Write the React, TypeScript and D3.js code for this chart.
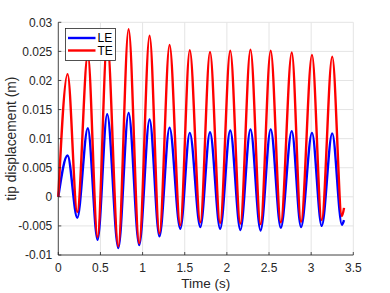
import React, { useRef, useEffect } from 'react';
import * as d3 from 'd3';

// extrema (time in s, displacement in m)
const peakTimes = [0.11, 0.35, 0.58, 0.834, 1.083, 1.32, 1.56, 1.8, 2.04, 2.28, 2.52, 2.77, 3.01, 3.25];
const troughTimes = [0.225, 0.466, 0.712, 0.96, 1.2, 1.447, 1.685, 1.92, 2.16, 2.4, 2.64, 2.88, 3.125, 3.365];
const lePeaks = [0.0071, 0.0118, 0.0142, 0.0144, 0.0133, 0.0119, 0.011, 0.0111, 0.0114, 0.0116, 0.0116, 0.0113, 0.011, 0.0109];
const leTroughs = [-0.0036, -0.0074, -0.0088, -0.0083, -0.0068, -0.0055, -0.0052, -0.0055, -0.0057, -0.0058, -0.0053, -0.0052, -0.005, -0.0048];
const tePeaks = [0.0211, 0.0245, 0.0268, 0.0288, 0.0277, 0.0261, 0.0252, 0.0249, 0.0251, 0.0253, 0.0251, 0.0248, 0.0244, 0.0241];
const teTroughs = [-0.0026, -0.0069, -0.0085, -0.008, -0.0063, -0.0049, -0.0044, -0.0045, -0.0046, -0.0047, -0.0044, -0.0043, -0.004, -0.0033];
const endTime = 3.39;
const leEnd = -0.004;
const teEnd = -0.0019;

const xTicks = [0, 0.5, 1, 1.5, 2, 2.5, 3, 3.5];
const xTickLabels = ['0', '0.5', '1', '1.5', '2', '2.5', '3', '3.5'];
const yTicks = [-0.01, -0.005, 0, 0.005, 0.01, 0.015, 0.02, 0.025, 0.03];
const yTickLabels = ['-0.01', '-0.005', '0', '0.005', '0.01', '0.015', '0.02', '0.025', '0.03'];

const seriesNames = ['LE', 'TE'];
const seriesColors = ['#0000ff', '#ff0000'];

const buildSeries = (peaks: number[], troughs: number[], end: number) => {
  const pts: [number, number][] = [[0, 0]];
  for (let i = 0; i < peaks.length; i++) {
    pts.push([peakTimes[i], peaks[i]]);
    pts.push([troughTimes[i], troughs[i]]);
  }
  pts.push([endTime, end]);
  return pts;
};

const App = () => {
  const container = useRef<HTMLDivElement>(null);

  useEffect(() => {
    const width = 390;
    const height = 293;
    const font = '"Liberation Sans", Arial, sans-serif';

    const x = d3.scaleLinear().domain([0, 3.5]).range([58.3, 353.3]);
    const y = d3.scaleLinear().domain([-0.01, 0.03]).range([255, 22.3]);

    const svg = d3.create('svg')
      .attr('width', width)
      .attr('height', height)
      .style('position', 'absolute')
      .style('left', 0)
      .style('top', 0)
      .style('background', '#fff');

    // grid
    const grid = svg.append('g').attr('stroke', '#e4e4e4').attr('stroke-width', 1);
    grid.selectAll('line.gx')
      .data(xTicks)
      .join('line')
      .attr('x1', d => x(d)).attr('x2', d => x(d))
      .attr('y1', y(-0.01)).attr('y2', y(0.03));
    grid.selectAll('line.gy')
      .data(yTicks)
      .join('line')
      .attr('x1', x(0)).attr('x2', x(3.5))
      .attr('y1', d => y(d)).attr('y2', d => y(d));

    // series
    const line = d3.line<[number, number]>()
      .x(d => x(d[0]))
      .y(d => y(d[1]))
      .curve(d3.curveMonotoneX);

    const data = [
      buildSeries(lePeaks, leTroughs, leEnd),
      buildSeries(tePeaks, teTroughs, teEnd),
    ];
    svg.append('g')
      .selectAll('path')
      .data(data)
      .join('path')
      .attr('fill', 'none')
      .attr('stroke', (d, i) => seriesColors[i])
      .attr('stroke-width', 2.4)
      .attr('stroke-linejoin', 'round')
      .attr('d', line);

    // axes (left and bottom only, ticks inward)
    const axisColor = '#262626';
    const axes = svg.append('g').attr('stroke', axisColor).attr('stroke-width', 0.8);
    axes.append('line')
      .attr('x1', x(0)).attr('x2', x(0)).attr('y1', y(-0.01)).attr('y2', y(0.03));
    axes.append('line')
      .attr('x1', x(0)).attr('x2', x(3.5)).attr('y1', y(-0.01)).attr('y2', y(-0.01));
    axes.selectAll('line.tx')
      .data(xTicks)
      .join('line')
      .attr('x1', d => x(d)).attr('x2', d => x(d))
      .attr('y1', y(-0.01)).attr('y2', y(-0.01) - 3);
    axes.selectAll('line.ty')
      .data(yTicks)
      .join('line')
      .attr('x1', x(0)).attr('x2', x(0) + 3)
      .attr('y1', d => y(d)).attr('y2', d => y(d));

    svg.append('g')
      .selectAll('text')
      .data(xTicks)
      .join('text')
      .attr('x', d => x(d))
      .attr('y', y(-0.01) + 16.5)
      .attr('text-anchor', 'middle')
      .attr('font-family', font)
      .attr('font-size', 12)
      .attr('fill', axisColor)
      .text((d, i) => xTickLabels[i]);

    svg.append('g')
      .selectAll('text')
      .data(yTicks)
      .join('text')
      .attr('x', x(0) - 6)
      .attr('y', d => y(d) + 4.2)
      .attr('text-anchor', 'end')
      .attr('font-family', font)
      .attr('font-size', 12)
      .attr('fill', axisColor)
      .text((d, i) => yTickLabels[i]);

    svg.append('text')
      .attr('x', (x(0) + x(3.5)) / 2)
      .attr('y', 288)
      .attr('text-anchor', 'middle')
      .attr('font-family', font)
      .attr('font-size', 13.5)
      .attr('fill', axisColor)
      .text('Time (s)');

    svg.append('text')
      .attr('transform', `translate(16,${(y(-0.01) + y(0.03)) / 2}) rotate(-90)`)
      .attr('text-anchor', 'middle')
      .attr('font-family', font)
      .attr('font-size', 13.8)
      .attr('fill', axisColor)
      .text('tip displacement (m)');

    // legend
    const lg = svg.append('g').attr('transform', 'translate(65.5,28.5)');
    lg.append('rect')
      .attr('width', 50).attr('height', 32)
      .attr('fill', '#fff')
      .attr('stroke', '#262626')
      .attr('stroke-width', 0.8);
    const items = lg.selectAll('g.item')
      .data(seriesNames)
      .join('g')
      .attr('transform', (d, i) => `translate(0,${9.5 + i * 12.5})`);
    items.append('line')
      .attr('x1', 2.5).attr('x2', 30)
      .attr('stroke', (d, i) => seriesColors[i])
      .attr('stroke-width', 2.4);
    items.append('text')
      .attr('x', 32)
      .attr('y', 4.2)
      .attr('font-family', font)
      .attr('font-size', 12)
      .attr('fill', '#000')
      .text(d => d);

    container.current.innerHTML = '';
    container.current.appendChild(svg.node());
  }, []);

  return <div ref={container} />;
};

export default App;
